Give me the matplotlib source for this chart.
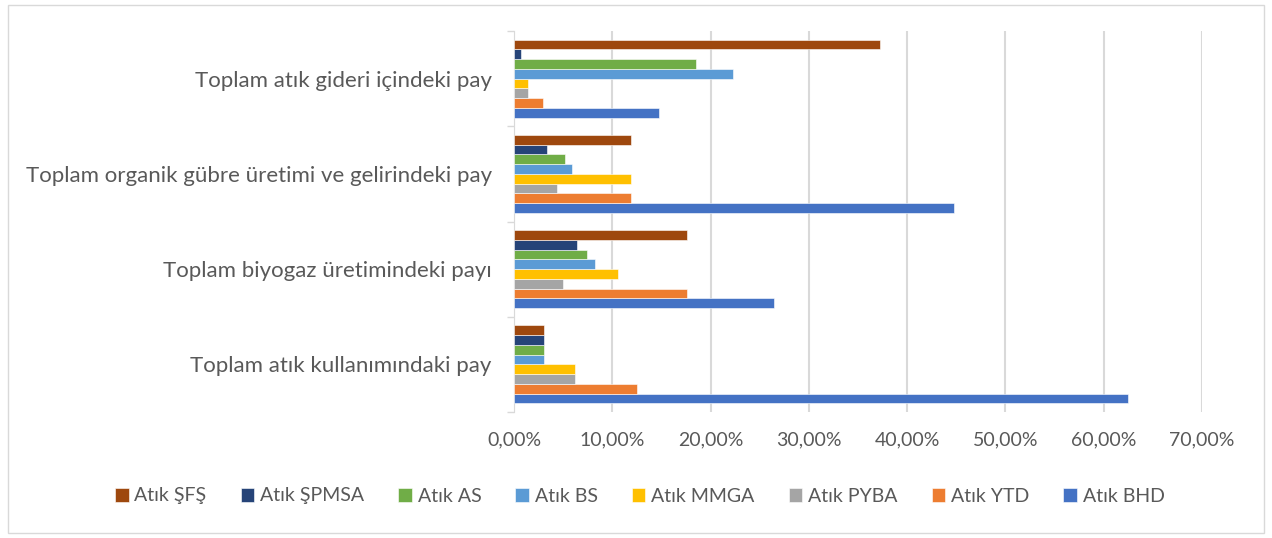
import numpy as np
import matplotlib.pyplot as plt
from matplotlib.patches import Rectangle
from matplotlib.ticker import FuncFormatter, FixedLocator

plt.rcParams['font.family'] = ['Lato', 'DejaVu Sans']

# categories, bottom to top
categories = [
    "Toplam atık kullanımındaki pay",
    "Toplam biyogaz üretimindeki payı",
    "Toplam organik gübre üretimi ve gelirindeki pay",
    "Toplam atık gideri içindeki pay",
]

# series, drawn bottom to top inside each group (values in %)
series_names = ["Atık BHD", "Atık YTD", "Atık PYBA", "Atık MMGA",
                "Atık BS", "Atık AS", "Atık ŞPMSA", "Atık ŞFŞ"]
bhd = [62.5, 26.5, 44.8, 14.8]
ytd = [12.5, 17.6, 11.9, 2.9]
pyba = [6.2, 5.0, 4.4, 1.4]
mmga = [6.2, 10.6, 11.9, 1.4]
bs = [3.1, 8.2, 5.9, 22.3]
as_ = [3.1, 7.4, 5.2, 18.5]
spmsa = [3.1, 6.4, 3.4, 0.7]
sfs = [3.1, 17.6, 11.9, 37.2]
values = [bhd, ytd, pyba, mmga, bs, as_, spmsa, sfs]
colors = ["#4472C4", "#ED7D31", "#A5A5A5", "#FFC000",
          "#5B9BD5", "#70AD47", "#264478", "#9E480E"]

fig = plt.figure(figsize=(12.72, 5.38), dpi=100)
fig.patches.append(Rectangle((0.006, 0.01), 0.988, 0.98, transform=fig.transFigure,
                             fill=False, edgecolor="#D9D9D9", lw=1))
ax = fig.add_axes([514 / 1272, 1 - 412 / 538, (1202 - 514) / 1272, (412 - 31) / 538])

n = len(series_names)
bh = 0.82 / n
y = np.arange(len(categories))
for i, (name, vals, c) in enumerate(zip(series_names, values, colors)):
    off = -0.41 + bh * (i + 0.5)
    ax.barh(y + off, np.array(vals) / 100, height=bh, color=c, label=name,
            edgecolor="white", linewidth=0.4, zorder=3)

ax.set_xlim(0, 0.7)
ax.set_ylim(-0.5, len(categories) - 0.5)
ax.set_xticks(np.arange(0, 0.71, 0.1))
ax.xaxis.set_major_formatter(FuncFormatter(lambda v, p: f"{v * 100:.2f}%".replace(".", ",")))
ax.set_yticks(y)
ax.set_yticklabels(categories)
ax.yaxis.set_minor_locator(FixedLocator(np.arange(-0.5, len(categories), 1)))
ax.tick_params(axis="y", which="major", length=0, pad=16, labelsize=16, labelcolor="#595959")
ax.tick_params(axis="y", which="minor", length=5, color="#D9D9D9", width=1)
ax.tick_params(axis="x", length=0, pad=14, labelsize=14, labelcolor="#595959")
ax.grid(axis="x", color="#D9D9D9", lw=1.5, zorder=0)
for s in ["top", "right", "bottom"]:
    ax.spines[s].set_visible(False)
ax.spines["left"].set_color("#D9D9D9")

h, l = ax.get_legend_handles_labels()
fig.legend(h[::-1], l[::-1], loc="center", bbox_to_anchor=(0.503, 1 - 496 / 538), ncol=8,
           frameon=False, fontsize=14, labelcolor="#595959", handlelength=0.7,
           handleheight=0.7, handletextpad=0.3, columnspacing=1.75)

fig.savefig("out.png", dpi=100)
